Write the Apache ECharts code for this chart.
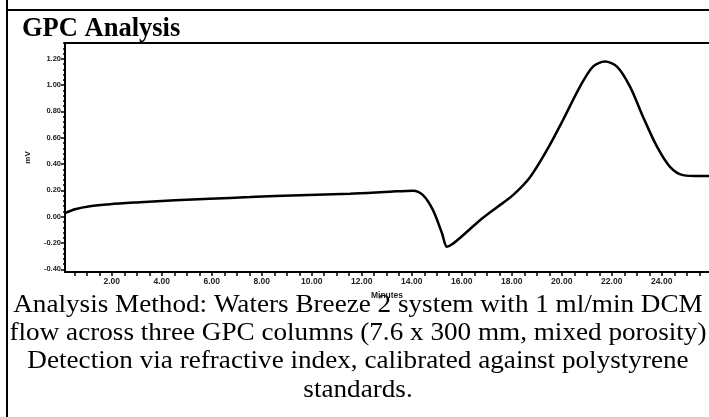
<!DOCTYPE html>
<html>
<head>
<meta charset="utf-8">
<script src="https://cdn.jsdelivr.net/npm/echarts@6/dist/echarts.min.js"></script>
<style>
html,body{margin:0;padding:0;background:#fff;}
#c{width:709px;height:417px;}
</style>
</head>
<body>
<div id="c"></div>
<script>
// Retention time (minutes)
var minutes = [0.13, 0.53, 1.13, 1.93, 3.13, 4.53, 5.93, 7.53, 9.53, 11.53, 13.13, 14.05,
  14.45, 14.85, 15.21, 15.41, 15.61, 16.05, 16.73, 17.41, 18.05, 18.73, 19.41, 20.05,
  20.73, 21.25, 21.73, 22.21, 22.73, 23.25, 23.81, 24.33, 24.85, 25.53, 25.89];
// Detector response (mV)
var signal = [0.027, 0.057, 0.080, 0.095, 0.110, 0.126, 0.137, 0.149, 0.164, 0.175, 0.190, 0.198,
  0.164, 0.050, -0.126, -0.229, -0.210, -0.141, -0.027, 0.072, 0.164, 0.300, 0.507, 0.735,
  0.989, 1.141, 1.179, 1.141, 0.989, 0.760, 0.532, 0.379, 0.316, 0.309, 0.309];
var xTickLabels = [2, 4, 6, 8, 10, 12, 14, 16, 18, 20, 22, 24];
var yTickLabels = [-0.4, -0.2, 0, 0.2, 0.4, 0.6, 0.8, 1.0, 1.2];
var titleText = 'GPC Analysis';
var captionLines = [
  'Analysis Method: Waters Breeze 2 system with 1 ml/min DCM',
  'flow across three GPC columns (7.6 x 300 mm, mixed porosity)',
  'Detection via refractive index, calibrated against polystyrene',
  'standards.'
];

var xMin = 0.13, xMax = 25.89, yMin = -0.42, yMax = 1.32;
var xMinor = [];
for (var i = 1; i <= 51; i++) xMinor.push(i * 0.5);
var yMinor = [];
for (var j = -10; j <= 33; j++) yMinor.push(+(j * 0.04).toFixed(2));

var pts = minutes.map(function (m, k) { return [m, signal[k]]; });

var chart = echarts.init(document.getElementById('c'), null, {renderer: 'canvas'});
var lblFont = {fontFamily: 'Liberation Sans', fontWeight: 'bold', color: '#222'};

var graphics = [
  {type: 'line', shape: {x1: 7, y1: 0, x2: 7, y2: 417}, style: {stroke: '#000', lineWidth: 2}},
  {type: 'line', shape: {x1: 7, y1: 10, x2: 709, y2: 10}, style: {stroke: '#000', lineWidth: 2}},
  {type: 'line', shape: {x1: 64, y1: 43, x2: 709, y2: 43}, style: {stroke: '#000', lineWidth: 2}},
  {type: 'text', style: {x: 22, y: 29, text: titleText, fill: '#000',
    font: 'bold 26.5px "Liberation Serif"', align: 'left', verticalAlign: 'middle'}}
];
var capY0 = 305, capStep = 28.3;
captionLines.forEach(function (t, k) {
  graphics.push({type: 'text', x: 358, y: capY0 + k * capStep, scaleX: 1.065, scaleY: 1,
    style: {x: 0, y: 0, text: t, fill: '#000',
    font: '25.5px "Liberation Serif"', align: 'center', verticalAlign: 'middle'}});
});

chart.setOption({
  animation: false,
  backgroundColor: '#fff',
  grid: {left: 65, top: 43, width: 644, height: 229, containLabel: false},
  xAxis: [{
    type: 'value', min: xMin, max: xMax,
    name: 'Minutes', nameLocation: 'middle', nameGap: 18,
    nameTextStyle: Object.assign({fontSize: 8.5}, lblFont),
    axisLine: {show: true, onZero: false, lineStyle: {color: '#000', width: 2}},
    axisTick: {show: true, inside: false, length: 4, customValues: xMinor, lineStyle: {color: '#000', width: 1.5}},
    axisLabel: Object.assign({fontSize: 8.5, margin: 5, customValues: xTickLabels,
      formatter: function (v) { return v.toFixed(2); }}, lblFont),
    splitLine: {show: false}
  }],
  yAxis: [{
    type: 'value', min: yMin, max: yMax,
    name: 'mV', nameLocation: 'middle', nameGap: 33, nameRotate: 90,
    nameTextStyle: Object.assign({fontSize: 8}, lblFont),
    axisLine: {show: true, onZero: false, lineStyle: {color: '#000', width: 2}},
    axisTick: {show: true, inside: false, length: 4, customValues: yTickLabels, lineStyle: {color: '#000', width: 1.5}},
    axisLabel: Object.assign({fontSize: 7.5, margin: 4, customValues: yTickLabels,
      formatter: function (v) { return v.toFixed(2); }}, lblFont),
    splitLine: {show: false}
  }, {
    type: 'value', min: yMin, max: yMax, position: 'left',
    axisLine: {show: false, onZero: false},
    axisTick: {show: true, inside: false, length: 2, customValues: yMinor, lineStyle: {color: '#000', width: 1.5}},
    axisLabel: {show: false},
    splitLine: {show: false}
  }],
  series: [{
    type: 'line', data: pts, xAxisIndex: 0, yAxisIndex: 0,
    showSymbol: false, smooth: 0.3,
    lineStyle: {color: '#000', width: 2.5}
  }],
  graphic: graphics
});
</script>
</body>
</html>
